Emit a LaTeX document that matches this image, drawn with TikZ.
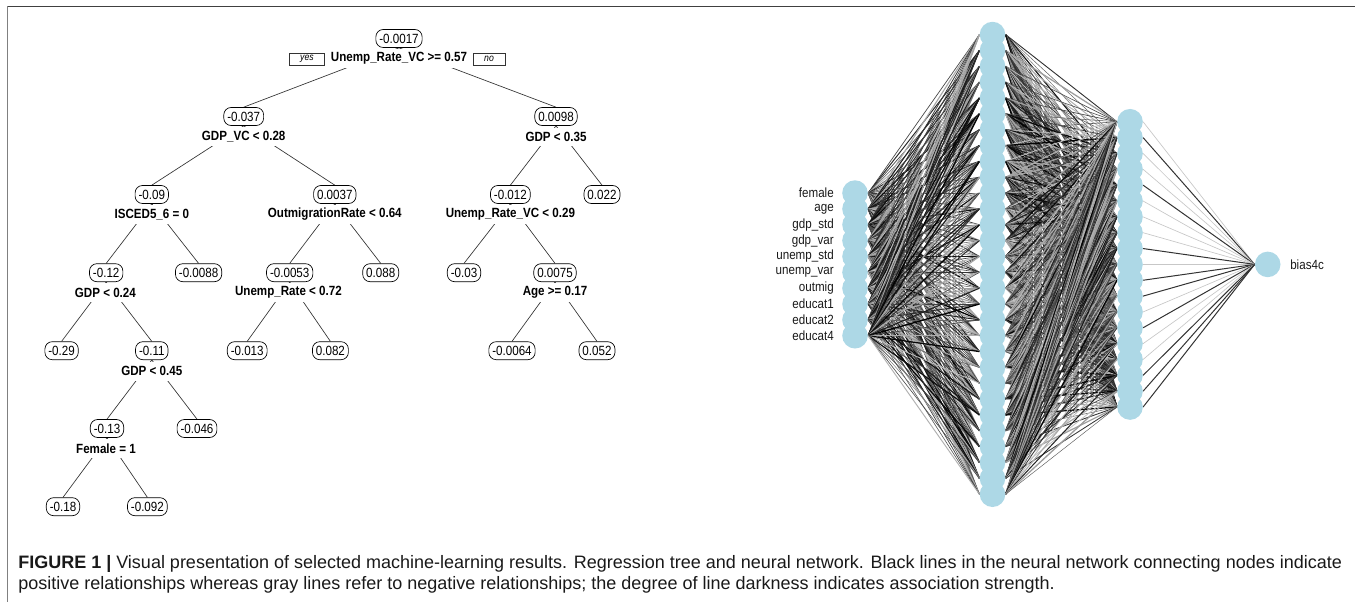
\documentclass[tikz,border=0pt]{standalone}
\usepackage{fontspec}
\setmainfont{Liberation Sans}
\newfontfamily\tf[FakeStretch=0.87]{Liberation Sans}
\newfontfamily\cf{Liberation Sans}
\usetikzlibrary{backgrounds}
\definecolor{nnblue}{HTML}{ADD8E6}
\tikzset{
  val/.style={draw=black, line width=0.5pt, rounded corners=5.5pt, fill=white,
    inner xsep=2.6pt, inner ysep=0pt, minimum height=13.5pt,
    font=\tf\fontsize{10}{11}\selectfont},
  split/.style={fill=white, inner xsep=1pt, inner ysep=0pt, minimum height=14pt,
    font=\tf\bfseries\fontsize{10}{11}\selectfont},
  yn/.style={draw=black!80, line width=0.5pt, fill=white, minimum height=9pt,
    inner sep=0pt, font=\tf\itshape\fontsize{7.5}{8}\selectfont},
  tedge/.style={line width=0.5pt, draw=black!80},
  nn/.style={circle, fill=nnblue, minimum size=19.2pt, inner sep=0pt},
  nnlab/.style={font=\tf\fontsize{10}{11}\selectfont, inner sep=0pt, text=black!90},
  caption/.style={anchor=base west, inner sep=0pt, text=black!90,
    font=\cf\fontsize{13.5}{15}\selectfont},
  frameline/.style={line width=1.1pt}
}
\begin{document}
\begin{tikzpicture}[x=0.75pt, y=-0.75pt]
\useasboundingbox (0,0) rectangle (1355,602);
% frame
\coordinate (fa) at (7.5,602);
\coordinate (fb) at (7.5,6.5);
\coordinate (fc) at (1355,6.5);
\draw[frameline, draw=black!50] (fa) -- (fb);
\draw[frameline, draw=black!75] (fb) -- (fc);

% ---------------- regression tree ----------------
\node[val] (r0) at (399,38.5) {-0.0017};
\node[split] (l0) at (399,58.7) {Unemp\_Rate\_VC >= 0.57};
\node[yn, minimum width=26.25pt] (yes) at (307,59) {yes};
\node[yn, minimum width=24pt] (no) at (489,59) {no};

\node[val] (n1) at (243.7,116.5) {-0.037};
\node[split] (l1) at (243.7,136.7) {GDP\_VC < 0.28};
\node[val] (n2) at (556,116.5) {0.0098};
\node[split] (l2) at (556,137) {GDP < 0.35};

\node[val] (n3) at (151.8,194.5) {-0.09};
\node[split] (l3) at (151.8,214.3) {ISCED5\_6 = 0};
\node[val] (n4) at (334.8,194.5) {0.0037};
\node[split] (l4) at (334.8,214.3) {OutmigrationRate < 0.64};
\node[val] (n5) at (510.4,194.5) {-0.012};
\node[split] (l5) at (510.4,214.3) {Unemp\_Rate\_VC < 0.29};
\node[val] (n6) at (602,194.5) {0.022};

\node[val] (n7) at (106.2,272.7) {-0.12};
\node[split] (l7) at (105.4,292.5) {GDP < 0.24};
\node[val] (n8) at (198.6,272.7) {-0.0088};
\node[val] (n9) at (289.7,272.7) {-0.0053};
\node[split] (l9) at (288.4,292.5) {Unemp\_Rate < 0.72};
\node[val] (n10) at (380.7,272.7) {0.088};
\node[val] (n11) at (464,272.7) {-0.03};
\node[val] (n12) at (555,272.7) {0.0075};
\node[split] (l12) at (555,292.5) {Age >= 0.17};

\node[val] (n13) at (61.6,350.7) {-0.29};
\node[val] (n14) at (151.8,350.7) {-0.11};
\node[split] (l14) at (151.8,371.2) {GDP < 0.45};
\node[val] (n15) at (247.2,350.7) {-0.013};
\node[val] (n16) at (330.4,350.7) {0.082};
\node[val] (n17) at (512,350.7) {-0.0064};
\node[val] (n18) at (597,350.7) {0.052};

\node[val] (n19) at (107,428.5) {-0.13};
\node[split] (l19) at (106,448.5) {Female = 1};
\node[val] (n20) at (197,428.5) {-0.046};

\node[val] (n21) at (63,506.7) {-0.18};
\node[val] (n22) at (147.4,506.7) {-0.092};

\begin{pgfonlayer}{background}
\foreach \p/\c in {r0/n1,r0/n2,n1/n3,n1/n4,n2/n5,n2/n6,n3/n7,n3/n8,n4/n9,n4/n10,
  n5/n11,n5/n12,n7/n13,n7/n14,n9/n15,n9/n16,n12/n17,n12/n18,n14/n19,n14/n20,
  n19/n21,n19/n22}
  \draw[tedge] (\p.south) -- (\c.north);
\end{pgfonlayer}

% ---------------- neural network ----------------
\foreach \t [count=\k] in {female,age,gdp\_std,gdp\_var,unemp\_std,unemp\_var,outmig,educat1,educat2,educat4}{
  \node[nn] (i\k) at (855,{264.4+(\k-5.5)*15.85}) {};
  \node[nnlab, anchor=east] (li\k) at (834,{264.4+(\k-5.5)*15.85}) {\t};
}
\foreach \k in {1,...,30}{
  \node[nn] (h\k) at (992.5,{264.4+(\k-15.5)*15.85}) {};
}
\foreach \k in {1,...,19}{
  \node[nn] (g\k) at (1130,{264.4+(\k-10)*15.85}) {};
}
\node[nn] (o) at (1267.7,264.4) {};
\node[nnlab, anchor=west] (lo) at (1290,264.4) {bias4c};

\begin{pgfonlayer}{background}
\pgfmathsetseed{4242}
\foreach \a in {1,...,10}{
  \foreach \b in {1,...,30}{
    \pgfmathsetmacro\w{rand}
    \pgfmathtruncatemacro\sh{\w>-0.4 ? 60+40*abs(\w) : 15+25*abs(\w)}
    \pgfmathsetmacro\lw{0.3+0.7*abs(\w)}
    \draw[draw=black!\sh, line width=\lw pt] (i\a.east) -- (h\b.west);
  }
}
\foreach \a in {1,...,30}{
  \foreach \b in {1,...,19}{
    \pgfmathsetmacro\w{rand}
    \pgfmathtruncatemacro\sh{\w>-0.4 ? 60+40*abs(\w) : 15+25*abs(\w)}
    \pgfmathsetmacro\lw{0.3+0.7*abs(\w)}
    \draw[draw=black!\sh, line width=\lw pt] (h\a.east) -- (g\b.west);
  }
}
\foreach \b/\d in {1/0,2/1,3/0,4/0,5/1,6/0,7/0,8/0,9/1,10/0,11/1,12/1,13/0,14/1,15/0,16/0,17/1,18/1,19/1}{
  \ifnum\d=1
    \draw[draw=black!80, line width=0.75pt] (g\b.east) -- (o.west);
  \else
    \draw[draw=black!22, line width=0.5pt] (g\b.east) -- (o.west);
  \fi
}
\end{pgfonlayer}

% ---------------- caption ----------------
\node[caption] (cap1) at (18,568)
  {\textbf{FIGURE 1 |} Visual presentation of selected machine-learning results. Regression tree and neural network. Black lines in the neural network connecting nodes indicate};
\node[caption] (cap2) at (18,589)
  {positive relationships whereas gray lines refer to negative relationships; the degree of line darkness indicates association strength.};
\end{tikzpicture}
\end{document}
